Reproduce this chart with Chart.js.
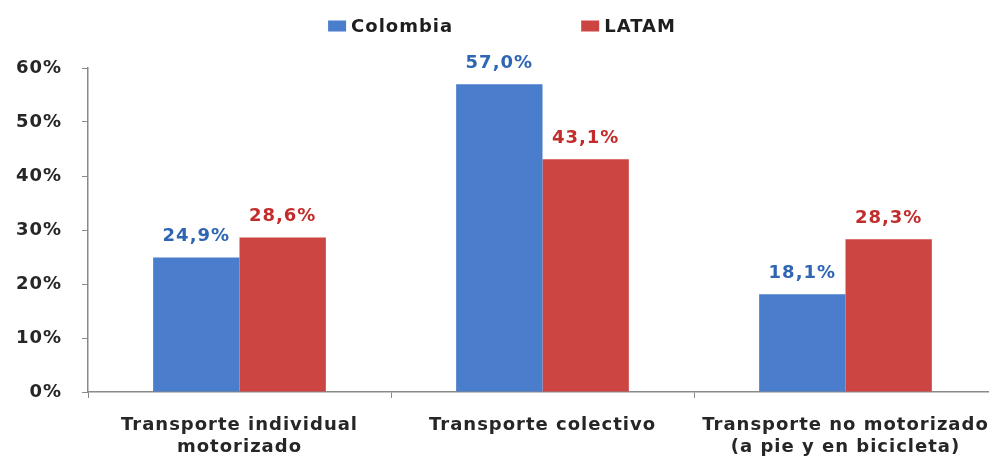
<!DOCTYPE html>
<html>
<head>
<meta charset="utf-8">
<script src="https://cdn.jsdelivr.net/npm/chart.js@4/dist/chart.umd.min.js"></script>
<style>
  html, body { margin: 0; padding: 0; background: #fff; overflow: hidden; }
  #wrap { width: 989px; height: 466px; overflow: hidden; }
  canvas { display: block; }
</style>
</head>
<body>
<div id="wrap"><canvas id="repartoModal" width="1000" height="466"></canvas></div>
<script>
// Reparto modal de viajes: Colombia frente a LATAM
const categorias = [
    ['Transporte individual', 'motorizado'],
    'Transporte colectivo',
    ['Transporte no motorizado', '(a pie y en bicicleta)']
];
const colombia = [24.9, 57.0, 18.1];
const latam = [28.6, 43.1, 28.3];
const ticksY = [0, 10, 20, 30, 40, 50, 60];

const azul = '#4a7dcb';
const rojo = '#cd4543';
const azulTexto = '#2f66b3';
const rojoTexto = '#c22d2c';
const fuente = 'DejaVu Sans';
const espaciado = '1px';

// texto algo más espaciado en todo el lienzo
const espaciadoLetras = {
    id: 'espaciadoLetras',
    beforeLayout(chart) { chart.ctx.letterSpacing = espaciado; },
    beforeDraw(chart) { chart.ctx.letterSpacing = espaciado; }
};

// etiquetas de valor encima de cada barra
const etiquetasValor = {
    id: 'etiquetasValor',
    afterDatasetsDraw(chart) {
        const ctx = chart.ctx;
        ctx.save();
        ctx.font = 'bold 18px "' + fuente + '"';
        ctx.textAlign = 'center';
        ctx.textBaseline = 'middle';
        chart.data.datasets.forEach((ds, i) => {
            const meta = chart.getDatasetMeta(i);
            ctx.fillStyle = ds.labelColor;
            meta.data.forEach((bar, j) => {
                const txt = ds.data[j].toFixed(1).replace('.', ',') + '%';
                ctx.fillText(txt, bar.x, bar.y - 21);
            });
        });
        ctx.restore();
    }
};

// leyenda superior con separación amplia entre elementos
const leyenda = {
    id: 'leyenda',
    afterDraw(chart) {
        const ctx = chart.ctx;
        const caja = { w: 18, h: 11 };
        const hueco = 5;
        const sep = 128;
        ctx.save();
        ctx.font = 'bold 18px "' + fuente + '"';
        ctx.textBaseline = 'middle';
        const items = chart.data.datasets.map(ds => ({
            ds, w: caja.w + hueco + ctx.measureText(ds.label).width
        }));
        const total = items.reduce((s, it) => s + it.w, 0) + sep * (items.length - 1);
        let x = chart.width / 2 + 2 - total / 2;
        const y = 26;
        items.forEach(it => {
            ctx.fillStyle = it.ds.backgroundColor;
            ctx.fillRect(x, y - caja.h / 2, caja.w, caja.h);
            ctx.fillStyle = '#1e1e1e';
            ctx.fillText(it.ds.label, x + caja.w + hueco, y + 1);
            x += it.w + sep;
        });
        ctx.restore();
    }
};

const ctx = document.getElementById('repartoModal').getContext('2d');
const grafico = new Chart(ctx, {
    type: 'bar',
    data: {
        labels: categorias,
        datasets: [{
            label: 'Colombia',
            data: colombia,
            backgroundColor: azul,
            labelColor: azulTexto,
            categoryPercentage: 0.57,
            barPercentage: 1
        }, {
            label: 'LATAM',
            data: latam,
            backgroundColor: rojo,
            labelColor: rojoTexto,
            categoryPercentage: 0.57,
            barPercentage: 1
        }]
    },
    options: {
        responsive: false,
        animation: false,
        layout: { padding: { top: 68, right: 3, bottom: 0, left: 0 } },
        plugins: {
            legend: { display: false },
            tooltip: { enabled: false }
        },
        scales: {
            x: {
                grid: { drawOnChartArea: false, tickLength: 6, color: '#8a8a8a', offset: true },
                border: { color: '#8a8a8a', width: 1.5 },
                ticks: {
                    color: '#262626',
                    padding: 16,
                    maxRotation: 0,
                    autoSkip: false,
                    font: { family: fuente, size: 18, weight: 'bold', lineHeight: 1.22 }
                },
                afterFit(scale) {
                    scale.height = 74;
                    scale.paddingLeft = 0;
                    scale.paddingRight = 0;
                }
            },
            y: {
                min: 0,
                max: 60,
                afterBuildTicks(scale) { scale.ticks = ticksY.map(v => ({ value: v })); },
                grid: { drawOnChartArea: false, tickLength: 6, color: '#8a8a8a' },
                border: { color: '#8a8a8a', width: 1.5 },
                ticks: {
                    color: '#262626',
                    padding: 20,
                    callback: v => v + '%',
                    font: { family: fuente, size: 18, weight: 'bold' }
                },
                afterFit(scale) { scale.width = 88; }
            }
        }
    },
    plugins: [espaciadoLetras, etiquetasValor, leyenda]
});
</script>
</body>
</html>
